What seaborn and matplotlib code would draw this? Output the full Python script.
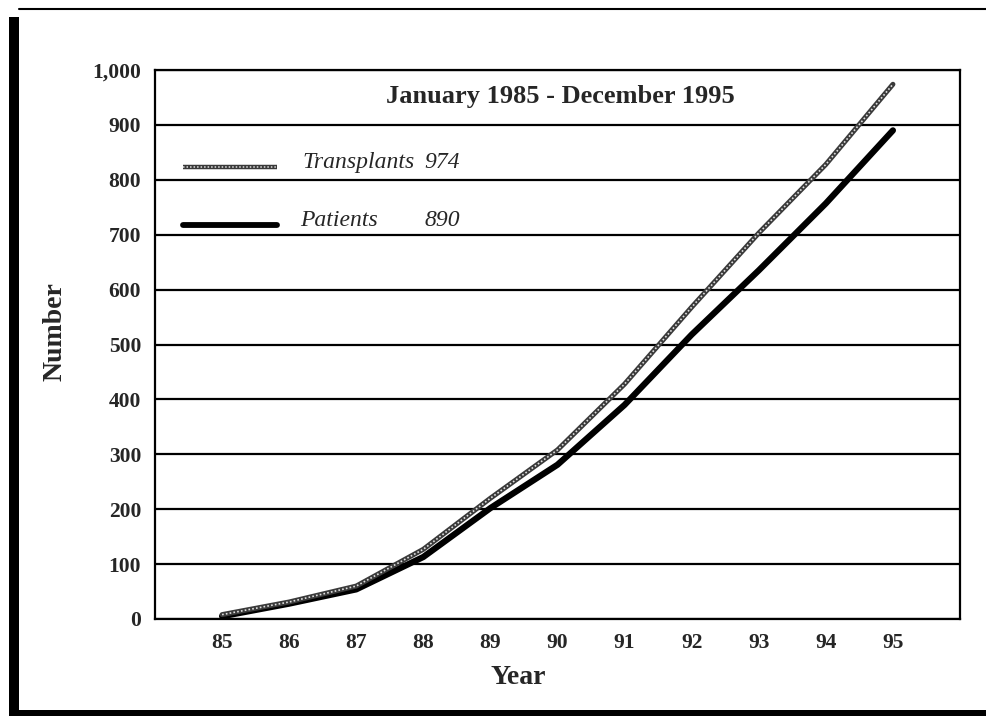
import matplotlib
matplotlib.use("Agg")
import matplotlib.pyplot as plt
import seaborn as sns
import pandas as pd
from matplotlib.lines import Line2D
from matplotlib.patches import Rectangle

years = [85, 86, 87, 88, 89, 90, 91, 92, 93, 94, 95]
transplants = [8, 31, 60, 127, 220, 308, 428, 568, 703, 828, 974]
patients = [5, 28, 54, 113, 202, 281, 390, 518, 635, 757, 890]
y_ticks = [0, 100, 200, 300, 400, 500, 600, 700, 800, 900, 1000]
y_tick_labels = ["0", "100", "200", "300", "400", "500", "600", "700", "800", "900", "1,000"]
title = "January 1985 - December 1995"
series_names = ["Transplants", "Patients"]

sns.set_style("white")
plt.rcParams["font.family"] = ["Liberation Serif", "DejaVu Serif"]

df = pd.DataFrame({"Year": years + years,
                   "Number": transplants + patients,
                   "Series": [series_names[0]] * len(years) + [series_names[1]] * len(years)})

fig = plt.figure(figsize=(9.86, 7.16), dpi=100)
ax = fig.add_axes([155 / 986, 1 - 619 / 716, 805 / 986, 549 / 716])

# gridlines
for t in y_ticks:
    ax.axhline(t, color="black", lw=1.6, zorder=1)

d_t = df[df["Series"] == series_names[0]]
d_p = df[df["Series"] == series_names[1]]
sns.lineplot(data=d_p, x="Year", y="Number", ax=ax, color="black", lw=4.5,
             solid_capstyle="round", zorder=3, legend=False)
sns.lineplot(data=d_t, x="Year", y="Number", ax=ax, color="#3a3a3a", lw=3.6,
             solid_capstyle="round", zorder=4, legend=False)
sns.lineplot(data=d_t, x="Year", y="Number", ax=ax, color="#e0e0e0", lw=1.2,
             dashes=False, zorder=5, legend=False, linestyle=(0, (1.0, 1.3)))

ax.set_xlim(84, 96)
ax.set_ylim(0, 1000)
ax.set_xticks(years)
ax.set_xticklabels([str(y) for y in years])
ax.set_yticks(y_ticks)
ax.set_yticklabels(y_tick_labels)
ax.tick_params(axis="both", direction="out", length=6, width=1.5, color="black",
               labelsize=15.5, pad=4)
ax.tick_params(axis="x", pad=4)
for lab in ax.get_xticklabels() + ax.get_yticklabels():
    lab.set_fontweight("bold")
for s in ax.spines.values():
    s.set_color("black")
    s.set_linewidth(1.6)

ax.set_xlabel("Year", fontsize=20, fontweight="bold")
ax.xaxis.set_label_coords(0.451, -0.106)
ax.xaxis.label.set_va("center")
ax.set_ylabel("Number", fontsize=20, fontweight="bold")
ax.yaxis.set_label_coords(-0.124, 0.523)
ax.yaxis.label.set_va("center")

ax.text(0.504, 0.951, title, transform=ax.transAxes, ha="center", va="center",
        fontsize=19, fontweight="bold")

# legend drawn manually
ax.plot([0.0348, 0.1516], [0.823, 0.823], transform=ax.transAxes, color="#3a3a3a", lw=3.2,
        solid_capstyle="butt", zorder=4)
ax.plot([0.0348, 0.1516], [0.823, 0.823], transform=ax.transAxes, color="#e0e0e0", lw=1.1,
        linestyle=(0, (1.0, 1.3)), zorder=5)
ax.plot([0.0348, 0.1516], [0.718, 0.718], transform=ax.transAxes, color="black", lw=4.2,
        solid_capstyle="round", zorder=4)
ax.text(0.183, 0.831, series_names[0], transform=ax.transAxes, ha="left", va="center",
        fontsize=17, fontstyle="italic")
ax.text(0.335, 0.831, str(transplants[-1]), transform=ax.transAxes, ha="left", va="center",
        fontsize=17, fontstyle="italic")
ax.text(0.180, 0.725, series_names[1], transform=ax.transAxes, ha="left", va="center",
        fontsize=17, fontstyle="italic")
ax.text(0.335, 0.725, str(patients[-1]), transform=ax.transAxes, ha="left", va="center",
        fontsize=17, fontstyle="italic")

# outer frame
fig.add_artist(Line2D([19 / 986, 1], [1 - 9 / 716, 1 - 9 / 716], transform=fig.transFigure,
                      color="black", lw=1.5))
fig.add_artist(Rectangle((9 / 986, 0), 10 / 986, 1 - 17 / 716, transform=fig.transFigure,
                         color="black", lw=0))
fig.add_artist(Rectangle((9 / 986, 0), 1, 6 / 716, transform=fig.transFigure,
                         color="black", lw=0))

fig.savefig("out.png", dpi=100)
